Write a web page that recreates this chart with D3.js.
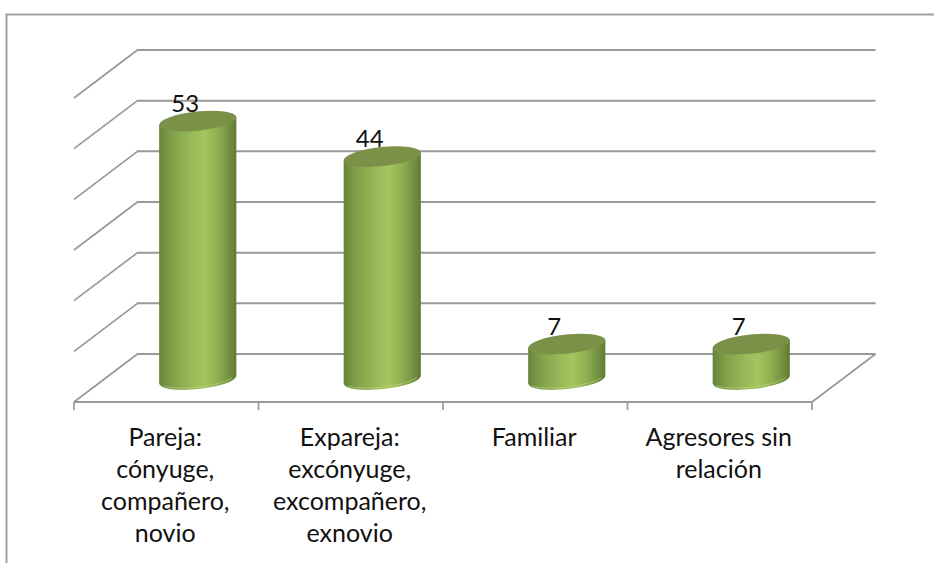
<!DOCTYPE html>
<html><head><meta charset="utf-8">
<script src="https://cdn.jsdelivr.net/npm/d3@7"></script>
<style>html,body{margin:0;background:#fff}svg{display:block}text{font-family:Lato,Carlito,sans-serif;fill:#111}</style>
</head><body><svg id="c" width="934" height="563"></svg>
<script>
const categories = [["Pareja:","cónyuge,","compañero,","novio"],["Expareja:","excónyuge,","excompañero,","exnovio"],["Familiar"],["Agresores sin","relación"]];
const dataLabels = ["53","44","7","7"];
const barHeights = [51,44,7,7];
const gridValues = [0,10,20,30,40,50,60];

const svg = d3.select("#c");
const W=934,H=563, left=74,right=812,front=402,back=354,dx=63.5;
const x = d3.scaleBand().domain(d3.range(categories.length)).range([left,right]);
const y = d3.scaleLinear().domain([0,60]).range([back,50]);
const grid="#999999";

const defs=svg.append("defs");
const g=defs.append("linearGradient").attr("id","cyl");
[[0,"#668439"],[.15,"#7f9e49"],[.38,"#95b656"],[.58,"#a3c55f"],[.76,"#8fae52"],[.92,"#6f8d3f"],[1,"#607b35"]]
 .forEach(([o,c])=>g.append("stop").attr("offset",o).attr("stop-color",c));

svg.append("path").attr("d",`M6.5,${H}V14.5H${W}`).attr("fill","none").attr("stroke","#a0a0a0").attr("stroke-width",2);

svg.selectAll(".h").data(gridValues).join("line").attr("x1",left+dx-.5).attr("x2",right+dx)
  .attr("y1",d=>y(d)).attr("y2",d=>y(d)).attr("stroke",grid).attr("stroke-width",2);
svg.selectAll(".d").data(gridValues).join("line").attr("x1",left).attr("x2",left+dx)
  .attr("y1",d=>y(d)+front-back).attr("y2",d=>y(d)).attr("stroke",grid).attr("stroke-width",1.7);

svg.append("line").attr("x1",left).attr("x2",right).attr("y1",front).attr("y2",front).attr("stroke",grid).attr("stroke-width",2);
svg.append("line").attr("x1",right).attr("x2",right+dx).attr("y1",front).attr("y2",back).attr("stroke",grid).attr("stroke-width",1.7);
const ticks=[...x.domain().map(i=>x(i)),right];
svg.selectAll(".t").data(ticks).join("line").attr("x1",d=>d).attr("x2",d=>d).attr("y1",front).attr("y2",front+8).attr("stroke",grid).attr("stroke-width",1.7);

const r=38.6, s=4, ry=9.6, rot=-6, shiftX=31.5, shiftY=25.5;
barHeights.forEach((v,i)=>{
  const cx=x(i)+x.bandwidth()/2+shiftX, yb=y(0)+shiftY, yt=y(v)+shiftY;
  svg.append("path").attr("fill","url(#cyl)")
    .attr("d",`M${cx-r},${yt+s}L${cx-r},${yb+s}A${r} ${ry} ${rot} 0 0 ${cx+r},${yb-s}L${cx+r},${yt-s}Z`);
  svg.append("path").attr("fill","none").attr("stroke","#c0da8c").attr("stroke-width",1).attr("opacity",.55)
    .attr("d",`M${cx-r+4},${yb+s+2.5}A${r} ${ry} ${rot} 0 0 ${cx+r-4},${yb-s+2}`);
  svg.append("ellipse").attr("cx",0).attr("cy",0).attr("rx",r+.2).attr("ry",ry).attr("fill","#7a9147")
    .attr("transform",`translate(${cx},${yt}) rotate(${rot})`);
  svg.append("text").attr("x",cx-12.5).attr("y",yt-9.5).attr("text-anchor","middle").attr("font-size",24).text(dataLabels[i]);
});

categories.forEach((lines,i)=>{
  const t=svg.append("text").attr("text-anchor","middle").attr("font-size",25);
  lines.forEach((l,j)=>t.append("tspan").attr("x",x(i)+x.bandwidth()/2-1).attr("y",445.5+j*32.1).text(l));
});
</script></body></html>
